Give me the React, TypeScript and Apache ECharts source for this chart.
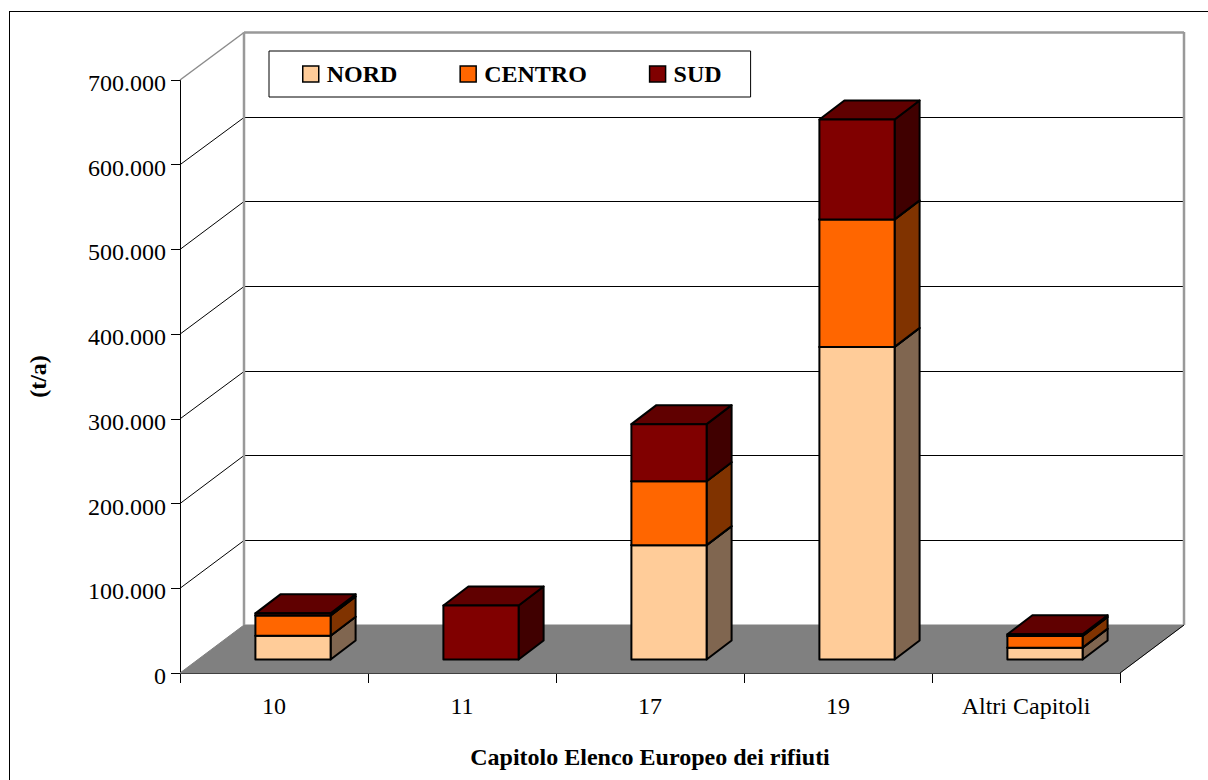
import React, { useEffect, useRef } from "react";
import * as echarts from "echarts";

const categories = ["10", "11", "17", "19", "Altri Capitoli"];
const nord = [28000, 0, 135000, 369000, 14000];
const centro = [24000, 0, 75500, 150500, 13800];
const sud = [2500, 63700, 67300, 118000, 2000];
const yTicks = [0, 100000, 200000, 300000, 400000, 500000, 600000, 700000];

const FONT = "Liberation Serif";
const WALL_DX = 64;
const WALL_DY = -48;
const BAR_DX = 19;
const BAR_DY = -13.5;
const SIDE_DX = 25;
const SIDE_DY = -19;
const BAR_RATIO = 0.4;

const stackOf = (values: number[], below: number[][]) =>
  values.map((v, i) => {
    const start = below.reduce((s, arr) => s + arr[i], 0);
    return [i, start, start + v];
  });

const wallItem = (params: any, api: any) => {
  const base = api.coord([0, 0]);
  const band = api.size([1, 0])[0];
  const x0 = base[0] - band / 2;
  const x1 = x0 + band * categories.length;
  const y0 = base[1];
  const topY = api.coord([0, yTicks[yTicks.length - 1]])[1];
  const children: any[] = [];
  const gray = { stroke: "#999999", lineWidth: 2.5, fill: "none" };
  children.push({
    type: "polygon",
    shape: {
      points: [
        [x0, y0],
        [x0 + WALL_DX, y0 + WALL_DY],
        [x1 + WALL_DX, y0 + WALL_DY],
        [x1, y0],
      ],
    },
    style: { fill: "#808080", stroke: "#808080", lineWidth: 1 },
  });
  yTicks.forEach((t) => {
    if (t === 0) return;
    const y = api.coord([0, t])[1];
    const isTop = y === topY;
    const s = isTop
      ? { stroke: "#8c8c8c", lineWidth: 1.5, fill: "none" }
      : { stroke: "#000", lineWidth: 1, fill: "none" };
    const wallY = Math.floor(y + WALL_DY + 0.3) + 0.5;
    children.push({
      type: "line",
      shape: { x1: x0, y1: y, x2: x0 + WALL_DX, y2: wallY },
      style: s,
    });
    children.push({
      type: "line",
      shape: { x1: x0 + WALL_DX, y1: wallY, x2: x1 + WALL_DX, y2: wallY },
      style: isTop ? gray : s,
    });
  });
  children.push({
    type: "line",
    shape: { x1: x0 + WALL_DX, y1: topY + WALL_DY, x2: x0 + WALL_DX, y2: y0 + WALL_DY },
    style: gray,
  });
  children.push({
    type: "line",
    shape: { x1: x1 + WALL_DX, y1: topY + WALL_DY, x2: x1 + WALL_DX, y2: y0 + WALL_DY },
    style: gray,
  });
  children.push({
    type: "line",
    shape: { x1: x1, y1: y0, x2: x1 + WALL_DX, y2: y0 + WALL_DY },
    style: { stroke: "#000", lineWidth: 1, fill: "none" },
  });
  return { type: "group", children };
};

const barItem = (front: string, side: string, top: string) => (params: any, api: any) => {
  const start = api.value(1);
  const end = api.value(2);
  if (end <= start) return null;
  const cat = api.value(0);
  const w = api.size([1, 0])[0] * BAR_RATIO;
  const a = api.coord([cat, start]);
  const b = api.coord([cat, end]);
  const xl = a[0] + BAR_DX - w / 2;
  const xr = xl + w;
  const yb = a[1] + BAR_DY;
  const yt = b[1] + BAR_DY;
  const line = { stroke: "#000", lineWidth: 2, lineJoin: "round" };
  return {
    type: "group",
    children: [
      {
        type: "polygon",
        shape: { points: [[xr, yb], [xr + SIDE_DX, yb + SIDE_DY], [xr + SIDE_DX, yt + SIDE_DY], [xr, yt]] },
        style: { fill: side, ...line },
      },
      {
        type: "polygon",
        shape: { points: [[xl, yt], [xl + SIDE_DX, yt + SIDE_DY], [xr + SIDE_DX, yt + SIDE_DY], [xr, yt]] },
        style: { fill: top, ...line },
      },
      {
        type: "polygon",
        shape: { points: [[xl, yb], [xr, yb], [xr, yt], [xl, yt]] },
        style: { fill: front, ...line },
      },
    ],
  };
};

const barSeries = (name: string, data: number[][], front: string, side: string, top: string) => ({
  type: "custom",
  name,
  data,
  clip: false,
  encode: { x: 0, y: [1, 2] },
  itemStyle: { color: front },
  renderItem: barItem(front, side, top),
  silent: true,
});

export default function App() {
  const ref = useRef<HTMLDivElement>(null);
  useEffect(() => {
    document.body.style.margin = "0";
    document.body.style.overflow = "hidden";
    const chart = echarts.init(ref.current!, null, { renderer: "svg" });
    chart.setOption({
      animation: false,
      backgroundColor: "#fff",
      textStyle: { fontFamily: FONT, color: "#000" },
      grid: { left: 180, top: 80, width: 940, height: 593, containLabel: false, outerBoundsMode: "none" },
      legend: {
        left: 269,
        top: 51,
        orient: "horizontal",
        padding: [11, 29, 11, 33],
        itemGap: 62,
        itemWidth: 16,
        itemHeight: 16,
        borderColor: "#000",
        borderWidth: 1,
        backgroundColor: "#fff",
        icon: "rect",
        textStyle: { fontFamily: FONT, fontWeight: "bold", fontSize: 24, color: "#000", padding: [0, 0, 0, 3] },
        itemStyle: { borderColor: "#000", borderWidth: 1.5 },
        data: ["NORD", "CENTRO", "SUD"],
      },
      xAxis: {
        type: "category",
        data: categories,
        boundaryGap: true,
        name: "Capitolo Elenco Europeo dei rifiuti",
        nameLocation: "middle",
        nameGap: 72,
        nameTextStyle: { fontFamily: FONT, fontWeight: "bold", fontSize: 24, color: "#000" },
        axisLine: { lineStyle: { color: "#000", width: 1 } },
        axisTick: { show: true, length: 10, alignWithLabel: false, lineStyle: { color: "#000" } },
        axisLabel: { fontFamily: FONT, fontSize: 24, color: "#000", margin: 21, interval: 0 },
        splitLine: { show: false },
      },
      yAxis: {
        type: "value",
        min: 0,
        max: 700000,
        interval: 100000,
        name: "(t/a)",
        nameLocation: "middle",
        nameGap: 130,
        nameRotate: 90,
        nameTextStyle: { fontFamily: FONT, fontWeight: "bold", fontSize: 24, color: "#000" },
        axisLine: { show: true, lineStyle: { color: "#000", width: 1 } },
        axisTick: { show: true, length: 9, lineStyle: { color: "#000" } },
        axisLabel: {
          color: "#000",
          margin: 14,
          formatter: (v: number) => "{a|" + String(v).replace(/\B(?=(\d{3})+$)/g, ".") + "}",
          rich: {
            a: { fontFamily: FONT, fontSize: 24, color: "#000", padding: [6, 0, 0, 0] },
          },
        },
        splitLine: { show: false },
      },
      series: [
        {
          type: "custom",
          name: "pareti",
          data: [[0, 0]],
          clip: false,
          silent: true,
          z: 1,
          encode: { x: 0, y: 1 },
          renderItem: wallItem,
        },
        barSeries("NORD", stackOf(nord, []), "#FFCC99", "#806650", "#806650"),
        barSeries("CENTRO", stackOf(centro, [nord]), "#FF6600", "#803300", "#803300"),
        barSeries("SUD", stackOf(sud, [nord, centro]), "#800000", "#400000", "#600000"),
      ],
      graphic: [
        { type: "line", silent: true, z: 100, shape: { x1: 9, y1: 11.5, x2: 1208, y2: 11.5 }, style: { stroke: "#000", lineWidth: 1 } },
        { type: "line", silent: true, z: 100, shape: { x1: 9.5, y1: 11, x2: 9.5, y2: 780 }, style: { stroke: "#000", lineWidth: 1 } },
      ],
    });
    return () => chart.dispose();
  }, []);
  return <div ref={ref} style={{ width: 1208, height: 780 }} />;
}
